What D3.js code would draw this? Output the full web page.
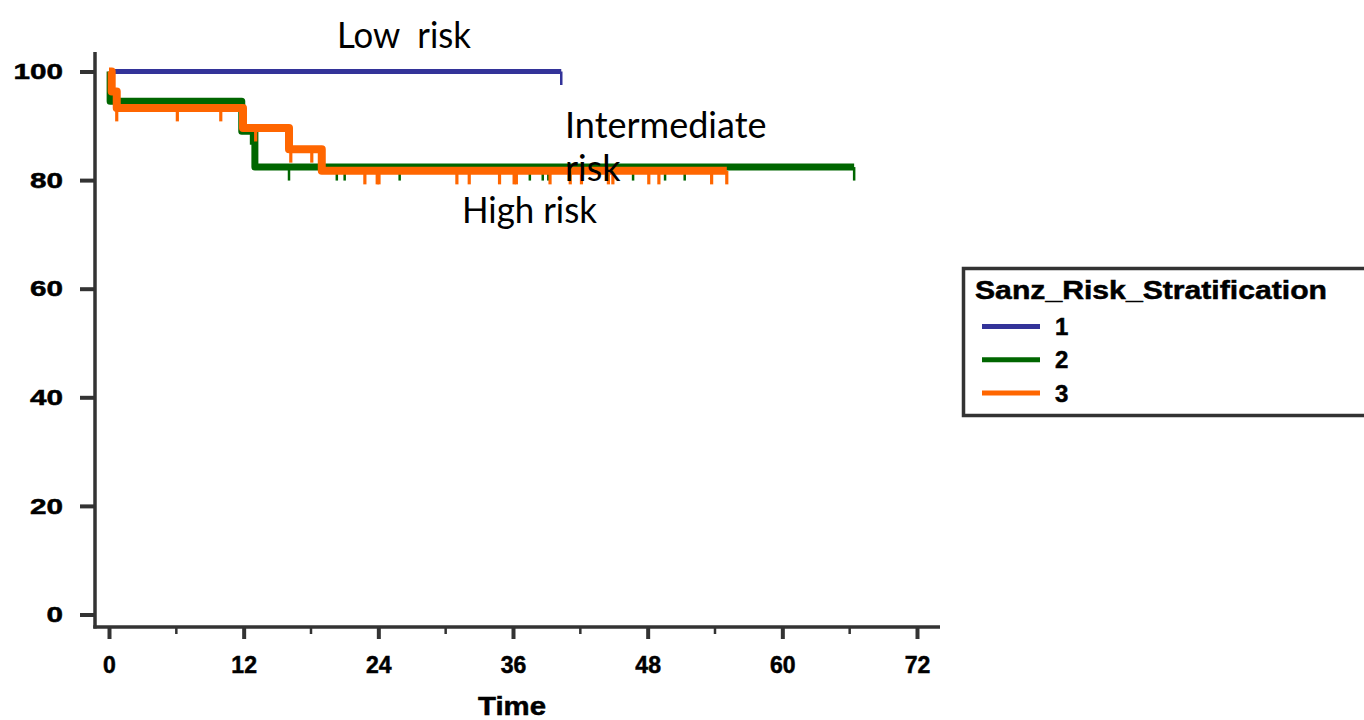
<!DOCTYPE html>
<html>
<head>
<meta charset="utf-8">
<script src="https://cdn.jsdelivr.net/npm/d3@7"></script>
<style>
  html, body { margin: 0; padding: 0; background: #fff; }
  svg { display: block; }
  .ann { font-family: Lato, "Open Sans", sans-serif; font-size: 36px; fill: #000; white-space: pre; }
  .ax { font-family: "Liberation Sans", Arial, sans-serif; font-weight: bold; fill: #000; stroke: #000; stroke-width: 0.5px; }
</style>
</head>
<body>
<svg id="chart" width="1364" height="720"></svg>
<script>
// ---------------- data ----------------
const groups = ["1", "2", "3"];
const groupColors = ["#333399", "#006600", "#ff6600"];
const legendTitle = "Sanz_Risk_Stratification";
const xTicks = [0, 12, 24, 36, 48, 60, 72];
const yTicks = [0, 20, 40, 60, 80, 100];

// Kaplan-Meier step curves (time in months, survival %)
const g1Time = [0, 40.3];
const g1Surv = [100, 100];
const g2Time = [0, 0.1, 11.83, 13.0, 66.4];
const g2Surv = [100, 94.5, 89.0, 82.4, 82.4];
const g3Time = [0, 0.24, 0.69, 11.94, 16.04, 18.96, 55.05];
const g3Surv = [100, 96.3, 93.3, 89.6, 85.7, 81.7, 81.7];

// censored observations (times)
const g1Censor = [40.3];
const g2Censor = [12.66, 16.04, 20.3, 21.0, 25.9, 37.5, 38.65, 39.15, 46.7, 49.55, 51.3, 66.4];
const g3Censor = [0.69, 6.09, 9.96, 13.07, 16.2, 18.07, 22.8, 23.9, 24.06, 31.0, 32.1, 34.8,
                  36.1, 36.3, 39.3, 41.1, 42.1, 44.5, 44.9, 48.1, 49.0, 53.7, 55.05];

// curve annotations
const annLow = "Low  risk";
const annInter1 = "Intermediate";
const annInter2 = "risk";
const annHigh = "High risk";
const xTitle = "Time";

// ---------------- drawing ----------------
const svg = d3.select("#chart");
const x = d3.scaleLinear().domain([0, 72]).range([109, 917]);
const y = d3.scaleLinear().domain([0, 100]).range([614.5, 71.5]);

const axisColor = "#333";

// y axis
const yAxis = svg.append("g").attr("transform", "translate(95,0)")
  .call(d3.axisLeft(y).tickValues(yTicks).tickSize(15).tickFormat(d => d));
yAxis.select(".domain").remove();
yAxis.selectAll(".tick line").attr("stroke", axisColor).attr("stroke-width", 4);
yAxis.selectAll(".tick text").attr("class", "ax").attr("font-size", 22)
  .attr("x", -32).attr("dy", "0.33em").attr("text-anchor", "end")
  .attr("textLength", d => String(d).length * 16.5).attr("lengthAdjust", "spacingAndGlyphs");
svg.append("line").attr("x1", 95).attr("x2", 95).attr("y1", 52).attr("y2", 628.5)
  .attr("stroke", axisColor).attr("stroke-width", 3.5);

// x axis
const xAxis = svg.append("g").attr("transform", "translate(0,627)")
  .call(d3.axisBottom(x).tickValues(xTicks).tickSize(12).tickFormat(d => d));
xAxis.select(".domain").remove();
xAxis.selectAll(".tick line").attr("stroke", axisColor).attr("stroke-width", 4);
xAxis.selectAll(".tick text").attr("class", "ax").attr("font-size", 23).attr("y", 46).attr("dy", 0);
const minor = d3.range(6, 72, 12);
svg.append("g").selectAll("line").data(minor).join("line")
  .attr("x1", d => x(d)).attr("x2", d => x(d)).attr("y1", 627).attr("y2", 634)
  .attr("stroke", axisColor).attr("stroke-width", 2.5);
svg.append("line").attr("x1", 93.3).attr("x2", 940).attr("y1", 627).attr("y2", 627)
  .attr("stroke", axisColor).attr("stroke-width", 3.5);

svg.append("text").attr("class", "ax").attr("font-size", 26)
  .attr("x", 512).attr("y", 715).attr("text-anchor", "middle")
  .attr("textLength", 68).attr("lengthAdjust", "spacingAndGlyphs").text(xTitle);

// curves
const line = d3.line().x(d => x(d[0])).y(d => y(d[1])).curve(d3.curveStepAfter);
const series = [
  {t: g1Time, s: g1Surv, c: g1Censor, w: 5, cw: 2.5},
  {t: g2Time, s: g2Surv, c: g2Censor, w: 7, cw: 2.5},
  {t: g3Time, s: g3Surv, c: g3Censor, w: 8, cw: 3.2}
];
function survAt(ser, tt) {
  let v = ser.s[0];
  for (let i = 0; i < ser.t.length; i++) if (ser.t[i] <= tt + 1e-9) v = ser.s[i];
  return v;
}
series.forEach((ser, i) => {
  const g = svg.append("g");
  g.selectAll("line").data(ser.c).join("line")
    .attr("x1", d => x(d)).attr("x2", d => x(d))
    .attr("y1", d => y(survAt(ser, d))).attr("y2", d => y(survAt(ser, d)) + 13.5)
    .attr("stroke", groupColors[i]).attr("stroke-width", ser.cw);
  g.append("path").datum(ser.t.map((tt, k) => [tt, ser.s[k]]))
    .attr("d", line).attr("fill", "none").attr("stroke", groupColors[i])
    .attr("stroke-width", ser.w).attr("stroke-linejoin", "round").attr("stroke-linecap", "butt");
});

// annotations
svg.append("text").attr("class", "ann").attr("x", 337).attr("y", 48)
  .attr("textLength", 134).attr("lengthAdjust", "spacingAndGlyphs").text(annLow);
svg.append("text").attr("class", "ann").attr("x", 565).attr("y", 138).text(annInter1);
svg.append("text").attr("class", "ann").attr("x", 565).attr("y", 181).text(annInter2);
svg.append("text").attr("class", "ann").attr("x", 462).attr("y", 223)
  .attr("textLength", 135).attr("lengthAdjust", "spacingAndGlyphs").text(annHigh);

// legend
const lg = svg.append("g");
lg.append("rect").attr("x", 963.5).attr("y", 268.5).attr("width", 440).attr("height", 147)
  .attr("fill", "#fff").attr("stroke", axisColor).attr("stroke-width", 3.5);
lg.append("text").attr("class", "ax").attr("font-size", 25).attr("x", 975).attr("y", 299)
  .attr("textLength", 352).attr("lengthAdjust", "spacingAndGlyphs").text(legendTitle);
const ly = d3.scalePoint().domain(groups).range([326.5, 393]);
groups.forEach((gname, i) => {
  lg.append("line").attr("x1", 982).attr("x2", 1040).attr("y1", ly(gname)).attr("y2", ly(gname))
    .attr("stroke", groupColors[i]).attr("stroke-width", 5);
  lg.append("text").attr("class", "ax").attr("font-size", 24).attr("x", 1055).attr("y", ly(gname) + 8.5)
    .text(gname);
});
</script>
</body>
</html>
